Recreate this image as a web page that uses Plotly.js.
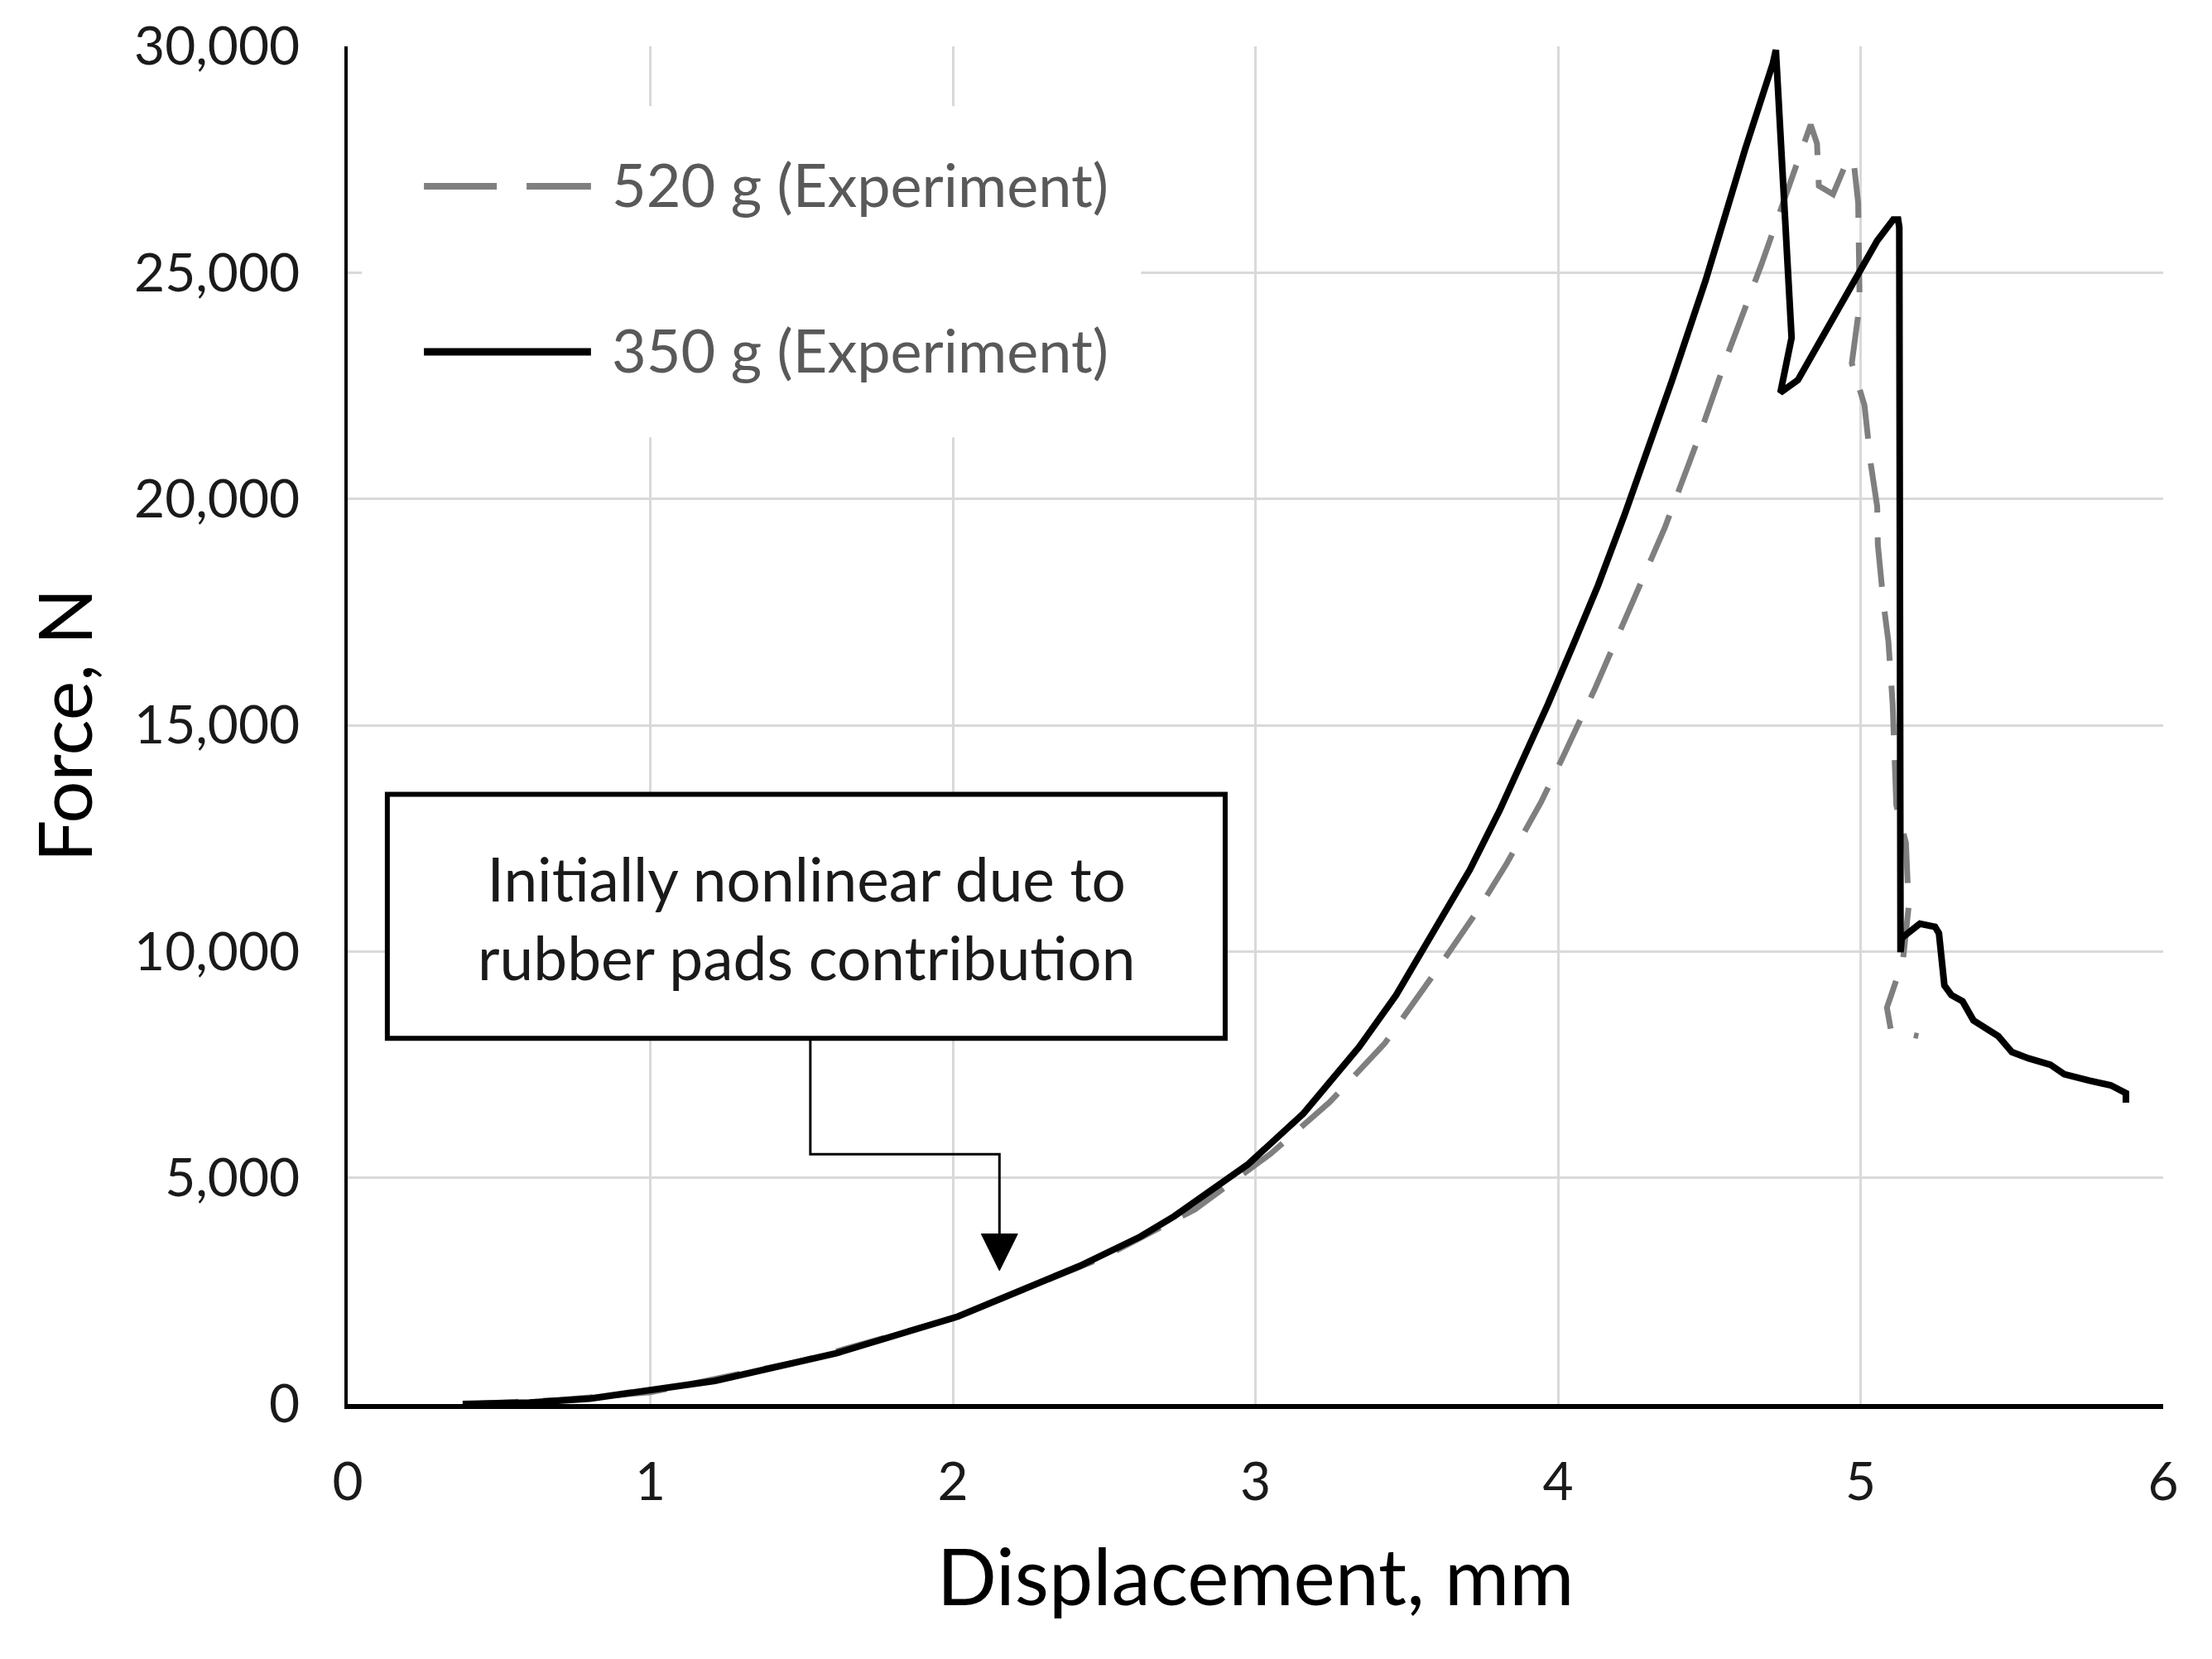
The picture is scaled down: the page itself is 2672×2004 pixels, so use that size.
<!DOCTYPE html>
<html>
<head>
<meta charset="utf-8">
<script src="https://cdn.plot.ly/plotly-3.0.1.min.js"></script>
<style>html,body{margin:0;padding:0;background:#fff;}#chart{width:2672px;height:2004px;}</style>
</head>
<body>
<div id="chart"></div>
<script>
// 350 g (Experiment) - solid black
const x350 = [0.38, 0.60, 0.80, 0.93, 1.214, 1.615, 2.017, 2.419, 2.62, 2.732, 2.976, 3.159, 3.343, 3.465, 3.587, 3.709, 3.807, 3.905, 3.966, 4.055, 4.133, 4.220, 4.376, 4.488, 4.619, 4.71, 4.72, 4.772, 4.735, 4.793, 4.992, 5.055, 5.108, 5.124, 5.128, 5.132, 5.136, 5.196, 5.246, 5.259, 5.268, 5.277, 5.30, 5.337, 5.373, 5.455, 5.50, 5.555, 5.627, 5.673, 5.754, 5.827, 5.877, 5.877];
const y350 = [0, 30, 120, 240, 512, 1122, 1934, 3050, 3700, 4150, 5300, 6423, 7892, 9034, 10421, 11809, 13114, 14550, 15450, 16850, 18100, 19650, 22600, 24830, 27738, 29623, 29920, 23562, 22347, 22627, 24912, 25706, 26172, 26172, 26000, 9983, 10297, 10612, 10545, 10401, 9597, 9250, 9038, 8899, 8478, 8129, 7778, 7639, 7499, 7288, 7149, 7043, 6870, 6660];

// 520 g (Experiment) - dashed grey
const x520 = [0.40, 0.70, 1.0, 1.5, 2.0, 2.5, 2.8, 3.049, 3.245, 3.428, 3.59, 3.734, 3.831, 3.892, 3.944, 4.013, 4.123, 4.238, 4.353, 4.463, 4.563, 4.673, 4.772, 4.835, 4.856, 4.862, 4.909, 4.95, 4.976, 4.992, 4.997, 4.971, 5.013, 5.034, 5.055, 5.057, 5.076, 5.092, 5.106, 5.109, 5.118, 5.15, 5.159, 5.14, 5.087, 5.10, 5.191];
const y520 = [0, 90, 260, 950, 1890, 3250, 4300, 5524, 6668, 7974, 9500, 10900, 11950, 12650, 13300, 14250, 15820, 17591, 19364, 21322, 23234, 25192, 27104, 28270, 27851, 26917, 26731, 27383, 27524, 26544, 24307, 23000, 22068, 20763, 19830, 18991, 17684, 16845, 15465, 14704, 13235, 12396, 10997, 9800, 8758, 8268, 8129];

const seriesNames = ['520 g (Experiment)', '350 g (Experiment)'];
const xTicks = [0, 1, 2, 3, 4, 5, 6];
const yTicks = [0, 5000, 10000, 15000, 20000, 25000, 30000];
const noteText = 'Initially nonlinear due to<br>rubber pads contribution';

const FONT = 'Lato, "Noto Sans", sans-serif';

const traces = [
  {x: x520, y: y520, name: seriesNames[0], type: 'scatter', mode: 'lines',
   line: {color: '#7f7f7f', width: 7, dash: '60px,30px'}, showlegend: false},
  {x: x350, y: y350, name: seriesNames[1], type: 'scatter', mode: 'lines',
   line: {color: '#000000', width: 8}, showlegend: false}
];

const layout = {
  width: 2672, height: 2004,
  margin: {l: 420, r: 59, t: 56, b: 308},
  paper_bgcolor: '#ffffff', plot_bgcolor: '#ffffff',
  font: {family: FONT, color: '#1a1a1a'},
  xaxis: {
    range: [0, 6], tickvals: xTicks, ticktext: xTicks.map(String),
    showgrid: true, gridcolor: '#d9d9d9', gridwidth: 3,
    showline: true, linecolor: '#000', linewidth: 6,
    zeroline: false, ticks: '', ticklabelstandoff: 33,
    tickfont: {family: FONT, size: 64, color: '#1a1a1a'},
    title: {text: 'Displacement, mm', font: {family: FONT, size: 95, color: '#000'}, standoff: 50}
  },
  yaxis: {
    range: [0, 30000], tickvals: yTicks, tickformat: ',d',
    showgrid: true, gridcolor: '#d9d9d9', gridwidth: 3,
    showline: true, linecolor: '#000', linewidth: 4,
    zeroline: false, ticks: '', ticklabelstandoff: 41,
    tickfont: {family: FONT, size: 64, color: '#1a1a1a'},
    title: {text: 'Force, N', font: {family: FONT, size: 90, color: '#000'}, standoff: 22}
  },
  shapes: [
    // legend background
    {type: 'rect', xref: 'paper', yref: 'paper', x0: 0.0078, x1: 0.437, y0: 0.712, y1: 0.956,
     fillcolor: '#ffffff', line: {width: 0}, layer: 'above'},
    {type: 'line', xref: 'paper', yref: 'paper', x0: 0.042, x1: 0.134, y0: 0.897, y1: 0.897,
     line: {color: '#7f7f7f', width: 8, dash: '88px,36px'}, layer: 'above'},
    {type: 'line', xref: 'paper', yref: 'paper', x0: 0.042, x1: 0.134, y0: 0.775, y1: 0.775,
     line: {color: '#000000', width: 9}, layer: 'above'},
    // note box
    {type: 'rect', xref: 'x', yref: 'y', x0: 0.131, x1: 2.90, y0: 8080, y1: 13472,
     fillcolor: '#ffffff', line: {color: '#000', width: 6}, layer: 'above'},
    // connector
    {type: 'path', xref: 'x', yref: 'y', path: 'M 1.529,8080 L 1.529,5520 L 2.154,5520 L 2.154,3758',
     line: {color: '#000', width: 3}, layer: 'above'},
    {type: 'path', xref: 'x', yref: 'y', path: 'M 2.094,3758 L 2.214,3758 L 2.154,2947 Z',
     fillcolor: '#000', line: {color: '#000', width: 1}, layer: 'above'}
  ],
  annotations: [
    {xref: 'paper', yref: 'paper', x: 0.1446, y: 0.899, xanchor: 'left', yanchor: 'middle',
     text: seriesNames[0], showarrow: false, font: {family: FONT, size: 72, color: '#595959'}},
    {xref: 'paper', yref: 'paper', x: 0.1446, y: 0.777, xanchor: 'left', yanchor: 'middle',
     text: seriesNames[1], showarrow: false, font: {family: FONT, size: 72, color: '#595959'}},
    {xref: 'x', yref: 'y', x: 1.516, y: 10740, xanchor: 'center', yanchor: 'middle',
     text: noteText, showarrow: false, align: 'center',
     font: {family: FONT, size: 73, color: '#1a1a1a'}}
  ]
};

Plotly.newPlot('chart', traces, layout, {staticPlot: true, displayModeBar: false});
</script>
</body>
</html>
